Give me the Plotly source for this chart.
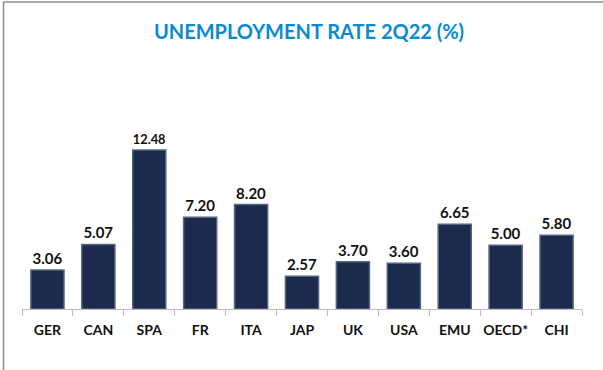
import plotly.graph_objects as go

countries = ["GER", "CAN", "SPA", "FR", "ITA", "JAP", "UK", "USA", "EMU", "OECD*", "CHI"]
rates = [3.06, 5.07, 12.48, 7.20, 8.20, 2.57, 3.70, 3.60, 6.65, 5.00, 5.80]

fig = go.Figure()
fig.add_trace(go.Bar(
    x=countries,
    y=rates,
    marker=dict(color="#1b2a4d", line=dict(color="#56657f", width=1.5)),
    texttemplate="<b>%{y:.2f}</b>",
    textposition="outside",
    textfont=dict(family="Lato", size=15, color="#111111"),
    cliponaxis=False,
    hoverinfo="skip",
))

fig.update_layout(
    width=603, height=370,
    margin=dict(l=22, r=21, t=60, b=61),
    paper_bgcolor="white",
    plot_bgcolor="white",
    bargap=0.35,
    showlegend=False,
    uniformtext=dict(minsize=15),
    title=dict(
        text="<b>UNEMPLOYMENT RATE 2Q22 (%)</b>",
        x=309 / 603, xanchor="center", xref="container",
        y=1 - 32 / 370, yanchor="middle",
        font=dict(family="Lato", size=20, color="#0a8ad2"),
    ),
    xaxis=dict(
        type="category",
        showline=True, linecolor="#bcbcbc", linewidth=1,
        ticks="outside", tickson="boundaries", ticklen=6, tickcolor="#bcbcbc",
        tickangle=0, ticklabelstandoff=8,
        tickfont=dict(family="Lato", size=14, color="#111111", weight="bold"),
        showgrid=False,
    ),
    yaxis=dict(range=[0, 19.55], visible=False, showgrid=False),
    shapes=[
        dict(type="line", xref="paper", yref="paper", x0=-18.5 / 560, x1=-18.5 / 560,
             y0=-61 / 249, y1=1 + 58 / 249, line=dict(color="#8c8c8c", width=1.5)),
        dict(type="line", xref="paper", yref="paper", x0=-18.5 / 560, x1=1 + 21 / 560,
             y0=1 + 58 / 249, y1=1 + 58 / 249, line=dict(color="#8c8c8c", width=1.5)),
    ],
)

fig.write_html("out.html")
